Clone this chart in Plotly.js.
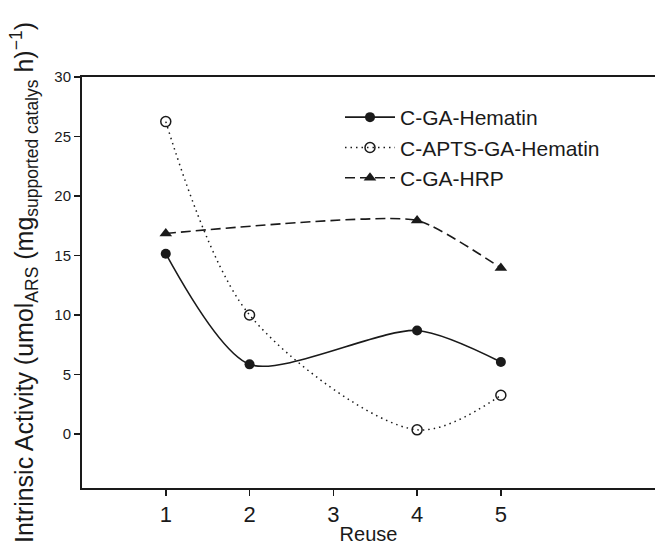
<!DOCTYPE html>
<html>
<head>
<meta charset="utf-8">
<script src="https://cdn.plot.ly/plotly-3.0.1.min.js"></script>
<style>html,body{margin:0;padding:0;background:#fff;}#chart{width:655px;height:545px;}</style>
</head>
<body>
<div id="chart"></div>
<script>
var reuseHematin = [1, 2, 4, 5];
var valHematin = [15.15, 5.85, 8.7, 6.05];
var reuseApts = [1, 2, 4, 5];
var valApts = [26.25, 10.0, 0.35, 3.25];
var reuseHrp = [1, 4, 5];
var valHrp = [16.85, 17.95, 13.95];
var names = ["C-GA-Hematin", "C-APTS-GA-Hematin", "C-GA-HRP"];
var xTicks = [1, 2, 3, 4, 5];
var yTicks = [0, 5, 10, 15, 20, 25, 30];

var traces = [
  {x: reuseHematin, y: valHematin, name: names[0], type: 'scatter', mode: 'lines+markers',
   line: {color: '#1a1a1a', width: 1.6, shape: 'spline', smoothing: 0.75},
   marker: {symbol: 'circle', size: 10, color: '#1a1a1a'}},
  {x: reuseApts, y: valApts, name: names[1], type: 'scatter', mode: 'lines+markers',
   line: {color: '#1a1a1a', width: 1.5, shape: 'spline', smoothing: 0.9, dash: '1.5px,4px'},
   marker: {symbol: 'circle-open', size: 10, color: '#1a1a1a', line: {width: 1.5, color: '#1a1a1a'}}},
  {x: reuseHrp, y: valHrp, name: names[2], type: 'scatter', mode: 'lines+markers',
   line: {color: '#1a1a1a', width: 1.6, shape: 'spline', smoothing: 0.5, dash: '10px,5px'},
   marker: {symbol: 'triangle-up', size: 11, color: '#1a1a1a'}}
];

var layout = {
  width: 655, height: 545,
  margin: {l: 82, r: 0, t: 77, b: 57, pad: 0},
  paper_bgcolor: '#fff', plot_bgcolor: '#fff',
  font: {family: 'Liberation Sans, Arial, sans-serif', color: '#1a1a1a'},
  showlegend: true,
  legend: {font: {size: 21}, bgcolor: 'rgba(0,0,0,0)', itemwidth: 50, tracegroupgap: 0,
           xanchor: 'left', yanchor: 'top'},
  xaxis: {range: [0, 6.84], tickvals: xTicks, ticktext: xTicks.map(String),
          showline: true, linecolor: '#1a1a1a', linewidth: 2, mirror: true,
          ticks: 'outside', ticklen: 6, tickwidth: 1.5, tickcolor: '#1a1a1a',
          showgrid: false, zeroline: false, tickfont: {size: 22},
          title: {text: 'Reuse', font: {size: 20}, standoff: 7}},
  yaxis: {range: [-4.54, 30], tickvals: yTicks, ticktext: yTicks.map(String),
          showline: true, linecolor: '#1a1a1a', linewidth: 2,
          ticks: 'outside', ticklen: 6, tickwidth: 1.5, tickcolor: '#1a1a1a',
          showgrid: false, zeroline: false, tickfont: {size: 15},
          title: {text: 'Intrinsic Activity (umol<sub>ARS</sub> (mg<sub>supported catalys</sub> h)<sup>\u22121</sup>)',
                  font: {size: 25}, standoff: 14}}
};
layout.legend.x = (340 - 82) / (655 - 82);
layout.legend.y = 1 - (97 - 77) / (488 - 77);

Plotly.newPlot('chart', traces, layout, {displayModeBar: false, staticPlot: true});
</script>
</body>
</html>
